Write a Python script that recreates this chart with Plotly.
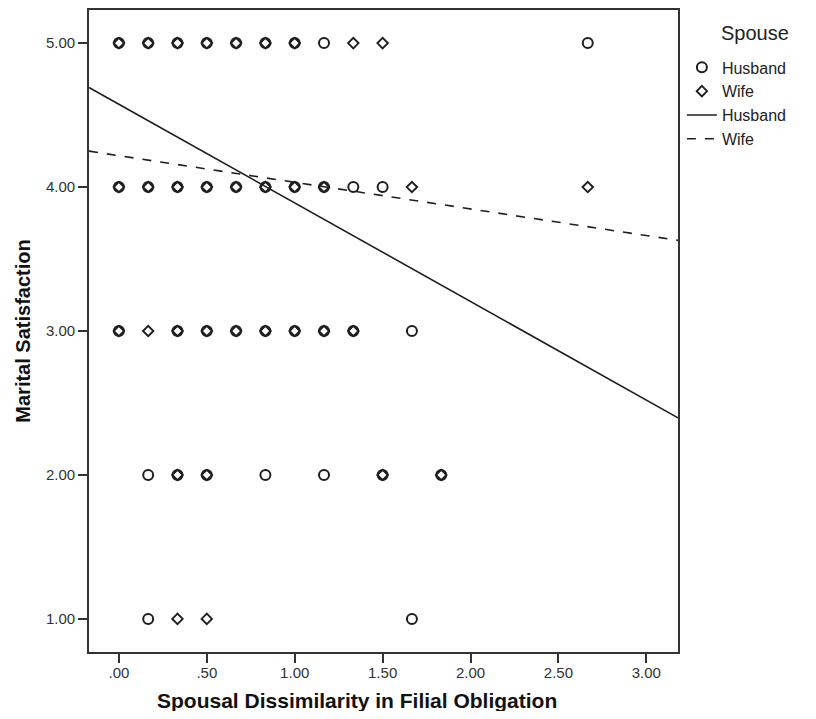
import plotly.graph_objects as go

# ---- data ----
x_tick_vals = [0, 0.5, 1.0, 1.5, 2.0, 2.5, 3.0]
x_tick_text = [".00", ".50", "1.00", "1.50", "2.00", "2.50", "3.00"]
y_tick_vals = [1, 2, 3, 4, 5]
y_tick_text = ["1.00", "2.00", "3.00", "4.00", "5.00"]

husband_x = [0, 1/6, 2/6, 3/6, 4/6, 5/6, 1, 7/6, 16/6,
             0, 1/6, 2/6, 3/6, 4/6, 5/6, 1, 7/6, 8/6, 9/6,
             0, 2/6, 3/6, 4/6, 5/6, 1, 7/6, 8/6, 10/6,
             1/6, 2/6, 3/6, 5/6, 7/6, 9/6, 11/6,
             1/6, 10/6]
husband_y = [5, 5, 5, 5, 5, 5, 5, 5, 5,
             4, 4, 4, 4, 4, 4, 4, 4, 4, 4,
             3, 3, 3, 3, 3, 3, 3, 3, 3,
             2, 2, 2, 2, 2, 2, 2,
             1, 1]

wife_x = [0, 1/6, 2/6, 3/6, 4/6, 5/6, 1, 8/6, 9/6,
          0, 1/6, 2/6, 3/6, 4/6, 5/6, 1, 7/6, 10/6, 16/6,
          0, 1/6, 2/6, 3/6, 4/6, 5/6, 1, 7/6, 8/6,
          2/6, 3/6, 9/6, 11/6,
          2/6, 3/6]
wife_y = [5, 5, 5, 5, 5, 5, 5, 5, 5,
          4, 4, 4, 4, 4, 4, 4, 4, 4, 4,
          3, 3, 3, 3, 3, 3, 3, 3, 3,
          2, 2, 2, 2,
          1, 1]

fit_names = ["Husband", "Wife"]
fit_intercepts = [4.575, 4.218]
fit_slopes = [-0.685, -0.185]

x_range = [-0.17, 3.18]
y_range = [0.77, 5.23]

# ---- figure ----
ink = "#1e1e1e"
FONT = "Liberation Sans, Arial, sans-serif"
fig = go.Figure()
fig.add_trace(go.Scatter(x=wife_x, y=wife_y, mode="markers", name="Wife",
                         legendrank=2,
                         marker=dict(symbol="diamond-open", size=8, color=ink,
                                     line=dict(width=1.9, color=ink))))
fig.add_trace(go.Scatter(x=husband_x, y=husband_y, mode="markers", name="Husband",
                         legendrank=1,
                         marker=dict(symbol="circle-open", size=10, color=ink,
                                     line=dict(width=2, color=ink))))
dashes = ["solid", "dash"]
for i, (name, b0, b1, d) in enumerate(zip(fit_names, fit_intercepts, fit_slopes, dashes)):
    fig.add_trace(go.Scatter(x=x_range, y=[b0 + b1 * xv for xv in x_range],
                             mode="lines", name=name, legendrank=3 + i,
                             line=dict(color=ink, width=1.6, dash=d)))

axis_common = dict(showline=True, linecolor="#333333", linewidth=1.6, mirror=True,
                   ticks="outside", ticklen=9, tickwidth=1.6, tickcolor="#333333",
                   showgrid=False, zeroline=False, automargin=False,
                   tickfont=dict(family=FONT, size=15, color="#333333"))

fig.update_xaxes(range=x_range, tickvals=x_tick_vals, ticktext=x_tick_text,
                 ticklabelstandoff=-3, **axis_common)
fig.update_yaxes(range=y_range, tickvals=y_tick_vals, ticktext=y_tick_text,
                 title=dict(text="<b>Marital Satisfaction</b>",
                            font=dict(family=FONT, size=20, color="#111111"),
                            standoff=10),
                 **axis_common)

fig.add_annotation(text="<b>Spousal Dissimilarity in Filial Obligation</b>",
                   xref="paper", yref="paper", x=0.455, y=-0.0748,
                   xanchor="center", yanchor="middle", showarrow=False,
                   font=dict(family=FONT, size=21, color="#111111"))
fig.add_annotation(text="Spouse", xref="paper", yref="paper", x=1.131, y=0.964,
                   xanchor="center", yanchor="middle", showarrow=False,
                   font=dict(family=FONT, size=20, color="#222222"))

fig.update_layout(
    width=800, height=703,
    margin=dict(l=81, r=130, t=2, b=59, autoexpand=False),
    paper_bgcolor="white", plot_bgcolor="white",
    font=dict(family=FONT, color="#222222"),
    showlegend=True,
    legend=dict(x=1.0066, y=0.937, xanchor="left", yanchor="top",
                font=dict(family=FONT, size=16, color="#222222"),
                itemwidth=30, tracegroupgap=0, bgcolor="rgba(0,0,0,0)"),
)

fig.write_html("out.html")
